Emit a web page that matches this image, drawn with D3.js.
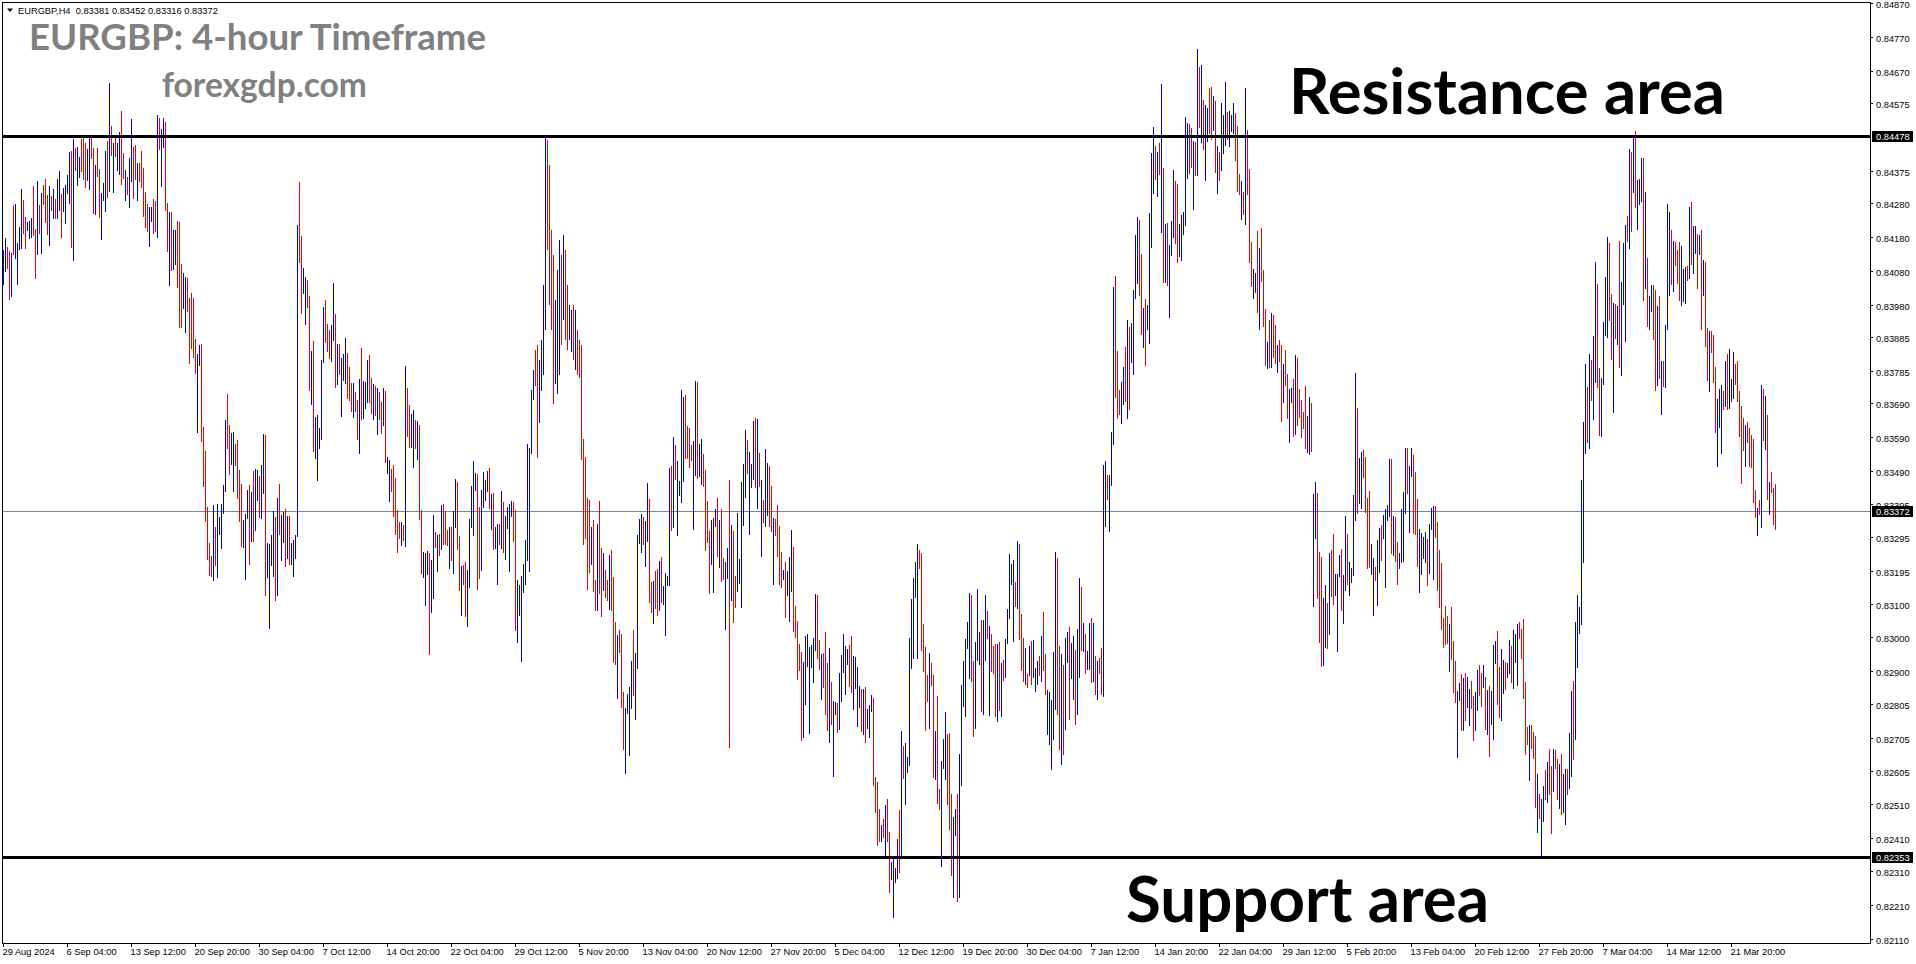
<!DOCTYPE html>
<html>
<head>
<meta charset="utf-8">
<title>EURGBP H4</title>
<script src="https://cdn.jsdelivr.net/npm/d3@7"></script>
<style>
html,body{margin:0;padding:0;background:#fff;overflow:hidden}
svg{display:block}
</style>
</head>
<body>
<svg id="chart" width="1916" height="964"></svg>
<script>
// EURGBP 4-hour bars. Prices are in points (1 point = 0.00001).
const highs = [
84143,84179,84151,84141,84135,84276,84279,84164,84210,84323,84290,84240,84225,84228,84238,84331,84205,84346,84276,84311,
84335,84352,84305,84331,84302,84323,84294,84352,84376,84308,84326,84335,84364,84431,84435,84470,84444,84446,84417,84470,
84476,84459,84441,84476,84476,84444,84394,84444,84382,84311,84341,84435,84464,84636,84508,84459,84476,84459,84490,84552,
84429,84379,84359,84415,84529,84446,84452,84400,84400,84435,84385,84314,84279,84270,84270,84294,84287,84541,84532,84500,
84532,84520,84282,84255,84255,84202,84202,84228,84225,84102,84076,84063,84061,84002,84017,84002,83881,83837,83863,83866,
83621,83550,83385,83280,83241,83392,83326,83395,83356,83395,83450,83642,83719,83627,83604,83606,83571,83583,83495,83454,
83347,83365,83436,83450,83429,83492,
83497,83494,83476,83509,83600,83597,83279,83276,83303,83373,83356,83412,83453,83362,83370,83379,83359,83359,83279,83288,
83303,84216,84343,84183,84089,84063,84054,84007,83845,83874,83650,83656,83618,83818,83974,83995,83924,83906,83921,84045,
83954,83865,83865,83824,83836,83883,83839,83798,83750,83750,83724,83700,83762,83853,83756,83753,83818,83833,83765,83747,
83742,83736,83724,83694,83736,83727,83532,83524,83497,83509,83471,83376,83341,83341,83332,83800,83736,83686,83659,83671,
83641,83638,83627,83376,83253,83250,83255,83250,83229,83362,83311,83303,83306,83391,83394,83373,83317,83326,83326,83373,
83468,83459,83300,83211,83214,83223,83199,83350,83447,83521,83485,83482,83385,83435,83488,83465,83491,83500,83423,83426,
83326,83335,83335,83432,83400,83359,83385,83394,
83402,83399,83376,83169,83154,83181,83216,83287,83570,83558,83729,83788,83847,83862,83818,83877,84039,84472,84466,84393,
84201,84127,83995,84083,84172,84127,84186,84142,84039,83980,83965,83980,83965,83906,83877,83862,83585,83532,83411,83405,
83325,83346,83169,83334,83402,83264,83249,83199,83169,83243,83258,83178,83045,83007,83022,83010,82839,82792,82833,82854,
82930,83022,82954,83302,83349,83364,83355,83343,83455,83408,83163,83166,83196,83202,83225,83237,83152,83190,83181,83500,
83505,83591,83567,83520,83461,83730,83709,83715,83623,83617,83567,83579,83756,83753,83570,83585,83541,83494,83402,83314,
83346,83352,83379,83411,83346,83379,83234,83222,83264,83464,83331,83314,83181,83367,83231,83458,83511,83612,83582,83547,
83511,83638,83647,83644,83544,83464,83405,
83556,83514,83506,83447,83352,83349,83391,83329,83252,83199,83222,83196,83237,83317,83267,83093,83048,82981,82957,82928,
83004,83010,82972,82978,82998,83128,83125,82992,82951,82954,83016,82925,82969,82869,82813,82810,82807,82895,82948,83010,
82975,82966,82978,83004,82945,82942,82913,82857,82848,82848,82854,82789,82801,82830,82821,82588,82574,82494,82447,82465,
82506,82524,82426,82338,82350,82320,82406,82491,82724,82680,82689,82647,82998,83113,83175,83222,83276,83258,83249,83040,
82972,82889,82954,82925,82889,82724,82827,82553,82636,82701,82780,82715,82718,82538,82471,82494,82538,82656,82860,82931,
82995,83046,83131,83125,82931,82987,83143,83016,83051,83051,83125,83078,83034,83010,82975,82981,82981,82987,82925,82933,
82995,83084,83246,83217,83228,83163,83284,83276,
83070,82999,82970,82893,82976,82991,82993,82911,82930,82946,83005,83076,82952,82845,82839,82816,82958,83252,83235,82976,
82950,82920,82997,83017,83031,82985,83003,82964,83026,83176,83149,83044,83009,82961,83044,83056,83044,82944,82932,82940,
82970,83509,83521,83480,83480,83607,84034,84066,83845,83730,83752,83798,83857,83936,83917,83928,84025,84188,84241,84231,
84131,83972,83999,83981,84251,84428,84505,84450,84432,84458,84632,84385,84220,84222,84158,84229,84379,84346,84337,84220,
84247,84255,84535,84517,84514,84503,84464,84462,84735,84682,84688,84585,84570,84562,84621,84623,84597,84582,84450,84432,
84576,84541,84638,84550,84552,84541,84576,84546,84509,84367,84346,84314,84621,84497,84381,84166,84087,84075,84198,84149,
84208,84084,83969,83871,83936,83957,83952,
83921,83862,83877,83862,83806,83847,83777,83732,83735,83762,83833,83824,83732,83700,83665,83741,83653,83709,83691,83423,
83458,83426,83252,83237,83116,83154,83101,83249,83258,83305,83187,83187,83243,83261,83184,83358,83305,83222,83205,83420,
83780,83676,83529,83547,83553,83532,83411,83432,83275,83234,83208,83287,83323,83331,83361,83379,83390,83526,83526,83358,
83355,83281,83249,83379,83429,83558,83558,83505,83558,83538,83488,83408,83320,83308,83296,83311,83290,83334,83382,83387,
83387,83340,83258,83219,83057,83093,83063,83039,83090,82989,82930,82842,82865,82892,82880,82895,82883,82848,82871,82827,
82839,82904,82919,82895,82919,82883,82845,82857,82842,82977,82989,83019,82913,82966,82933,82927,82924,82992,82975,83022,
83010,83039,83045,83025,83054,82868,82736,82742,
82743,82722,82710,82598,82539,82525,82562,82609,82633,82672,82622,82672,82669,82643,82628,82657,82596,82612,82612,82717,
82843,82872,83046,83126,83091,83465,83636,83807,83739,83836,83818,83889,84108,84042,83795,83765,83931,84063,84181,84163,
84013,83987,83984,83977,84169,84048,84163,84216,84243,84441,84432,84476,84493,84348,84352,84414,84414,84313,84119,84007,
84039,84039,84024,83977,84007,83815,83815,83921,84279,84255,84202,84169,84166,84142,84166,84155,84087,84092,84095,84269,
84284,84213,84213,84190,84187,84202,84113,84108,83913,83905,83905,83892,83797,83703,83733,83745,83726,83815,83836,83850,
83763,83842,83807,83815,83726,83683,83647,83626,83636,83618,83597,83586,83436,83381,83405,83745,83733,83711,83657,83459,
83489,83441,83452
];
const lows = [
84040,84078,84086,83996,84004,84128,84117,84040,84143,84146,84190,84146,84198,84176,84179,84185,84058,84128,84190,84130,
84274,84223,84187,84155,84258,84235,84235,84235,84258,84179,84255,84220,84308,84279,84149,84110,84376,84331,84356,84372,
84349,84326,84346,84320,84410,84249,84246,84359,84238,84172,84287,84255,84297,84314,84420,84311,84417,84376,84364,84335,
84352,84287,84305,84267,84343,84294,84349,84287,84344,84326,84241,84208,84196,84151,84225,84190,84196,84179,84438,84328,
84444,84258,84137,84037,84081,84084,84097,84031,83914,83914,83969,83899,83960,83806,83851,83825,83778,83604,83801,83575,
83444,83341,83229,83182,83179,83167,83212,83174,83303,83262,83365,83429,83557,83480,83509,83429,83506,83409,83341,83267,
83265,83170,83350,83215,83282,83282,
83314,83403,83353,83350,83423,83123,83176,83026,83211,83179,83108,83123,83303,83226,83279,83208,83232,83214,83214,83179,
83232,83297,84104,83954,84013,83921,83971,83727,83686,83547,83526,83462,83556,83582,83809,83868,83842,83821,83812,83874,
83736,83744,83774,83650,83756,83747,83703,83697,83665,83647,83665,83582,83541,83641,83644,83674,83692,83692,83659,83641,
83653,83597,83641,83600,83624,83515,83482,83400,83429,83356,83303,83250,83291,83270,83285,83267,83591,83559,83559,83500,
83556,83524,83347,83188,83176,83093,83185,82949,83073,83114,83264,83194,83241,83258,83273,83273,83270,83202,83226,83188,
83323,83258,83138,83064,83155,83061,83032,83146,83323,83300,83432,83141,83173,83197,83382,83403,83429,83379,83317,83258,
83261,83155,83273,83261,83250,83229,83320,83194,
83355,83281,83019,82983,83063,82927,83131,83154,83225,83193,83541,83700,83741,83529,83632,83727,83774,83906,84142,83980,
83906,83688,83747,83718,83774,83862,83936,83877,83847,83877,83841,83818,83788,83774,83765,83523,83272,83290,83140,83190,
83213,83134,83078,83078,83128,83060,83137,83116,83107,83081,83078,82924,82919,82818,82954,82792,82668,82597,82774,82650,
82789,82827,82756,82907,83275,83249,83272,83208,83281,83101,83072,83039,83084,83063,83078,83101,83095,83004,83152,83152,
83314,83323,83464,83299,83417,83396,83458,83526,83526,83500,83520,83317,83476,83467,83473,83449,83443,83255,83278,83128,
83213,83131,83325,83237,83205,83163,83169,83022,83172,82674,83107,83042,83087,83134,83157,83087,83328,83411,83482,83302,
83441,83464,83441,83379,83443,83237,83337,
83326,83358,83326,83311,83155,83299,83237,83155,83146,83169,83057,83122,83046,83134,83016,82998,82875,82901,82695,82703,
82801,82913,82715,82910,82866,82960,82936,82904,82815,82851,82771,82724,82689,82742,82588,82771,82718,82727,82810,82895,
82830,82919,82854,82836,82786,82848,82736,82792,82721,82712,82689,82730,82703,82780,82562,82482,82385,82397,82397,82409,
82355,82397,82246,82285,82173,82276,82288,82305,82355,82583,82506,82600,82621,82907,82936,83116,82936,83202,82960,82898,
82724,82810,82730,82857,82585,82580,82509,82491,82323,82612,82580,82506,82432,82296,82232,82414,82220,82232,82562,82795,
82765,82966,82877,82869,82706,82730,82931,82919,82780,82771,82931,82995,82768,82898,82892,82765,82751,82783,82765,82872,
82880,82981,83054,83155,82987,83090,83084,82992,
82900,82870,82860,82850,82885,82860,82880,82840,82860,82885,82870,82900,82830,82713,82683,82610,82698,82786,82771,82669,
82624,82654,82728,82926,82757,82879,82816,82742,82771,82881,82961,82957,82893,82905,82905,82867,82870,82831,82816,82893,
82831,82825,83326,83406,83312,83448,83568,83706,83645,83657,83629,83686,83693,83645,83672,83809,83775,83999,84042,84007,
83893,83854,83801,83907,83865,84149,84308,84348,84299,84364,84192,84046,84046,84037,83942,84125,84178,84160,84105,84123,
84111,84188,84214,84352,84367,84385,84261,84361,84361,84503,84458,84438,84346,84462,84485,84467,84493,84369,84308,84346,
84375,84426,84450,84467,84446,84491,84485,84405,84314,84306,84231,84247,84216,84306,84105,84034,83999,84016,83957,83907,
84048,83916,83801,83792,83795,83795,83824,
83806,83780,83812,83635,83691,83741,83644,83573,83691,83591,83597,83623,83647,83588,83615,83556,83544,83538,83547,83090,
83290,83113,82983,82913,82916,82969,82966,83007,83119,83095,83122,82957,83178,83078,83039,83137,83154,83122,83160,83181,
83343,83364,83393,83379,83470,83367,83202,83205,83184,83063,83166,83093,83190,83225,83290,83146,83343,83355,83246,83240,
83222,83154,83202,83219,83222,83364,83423,83308,83473,83305,83302,83208,83131,83184,83231,83219,83152,83187,83317,83169,
83293,83137,83087,83022,82969,82977,82980,82898,82933,82836,82806,82644,82812,82724,82724,82753,82792,82739,82789,82694,
82724,82783,82827,82795,82851,82727,82712,82647,82742,82697,82921,82801,82762,82753,82833,82845,82880,82892,82865,82848,
82924,82857,82995,82936,82818,82653,82683,82576,
82672,82643,82498,82422,82465,82355,82455,82522,82512,82536,82419,82545,82612,82520,82495,82475,82483,82448,82536,82554,
82589,82639,82699,82910,83010,83038,83220,83541,83573,83555,83697,83642,83749,83736,83594,83592,83745,83889,83884,83934,
83818,83662,83881,83863,83795,83771,83981,83871,84166,84147,84195,84312,84266,84202,84275,84283,83992,84027,83917,83907,
83960,83877,83726,83742,83763,83657,83740,83736,83907,84007,84039,84019,84095,84042,83992,83977,83988,83984,84051,84058,
84098,84071,84131,84027,84128,83907,84007,83857,83757,83724,83839,83750,83603,83503,83617,83541,83671,83681,83671,83674,
83694,83703,83745,83693,83592,83452,83550,83503,83573,83503,83500,83397,83352,83299,83362,83323,83579,83553,83405,83362,
83426,83331,83316
];
// One letter per bar: u = close above open, d = close below open, n = unchanged.
const directions = [
"uudduduuuu","dduuuddudu","dddududuud","uuuududuud","dduudduddu","uudududuud","duduuddudd","ddduuddudu","udduduuddd","uuddddduud","ddddduduuu","uudduudddd","uuudud",
"uuduuduuuu","duduududuu","uudduuddud","uuuuuddduu","duduuudddu","dduduuuddu","duddudnudd","dddududduu","dudduuuduu","dududddudu","uddudduuuu","udduuuudud","uududuuu",
"udduuuuuuu","uudduuuudd","dduuududdu","ududdddddd","uddudduddu","ddduddduuu","uduuuuduud","dudduduuuu","duduuuuddd","duuduudddd","uuududduud","udduuuuudu","uududud",
"uudduddddu","duuudddddu","uuuuuuddud","dduduuduuu","uudduuuudu","duuuddddud","udduuuudud","uuuuuuuddd","dduddudduu","uddduuduuu","uuudduuudu","ududddudud","uuuuudud",
"ddududuuud","udduuuuudd","uduuduuduu","duduududud","duuduuuddd","uududuuuud","duduuuudud","ududuuuddu","uuuuddudud","uduuddudud","uuuduuuddd","ududdduudu","dddudud",
"duddudduud","uddddduudu","uddduududd","uuuduudnuu","uduudddduu","duuduuuudu","dduuuuduud","dduuuuduuu","dddddddudd","duududuudd","uuddududuu","udduuduudu","uudddddu",
"ddduduudud","dudduduudu","uduuuuuudu","duudduuuud","dududuuudu","duduuududu","uddududuuu","duddduuudu","duudududdu","ddduuududn","uudddddudd","dddudududu","ddd"
].join("");

// Labelled levels on the price scale.
const priceTicks = [84870,84770,84670,84575,84375,84280,84180,84080,83980,83885,83785,83690,83590,83490,83395,83295,83195,83100,83000,82900,82805,82705,82605,82510,82410,82310,82210,82110];
const resistance = 84478, support = 82353, lastClose = 83372;
const dateLabels = ["29 Aug 2024","6 Sep 04:00","13 Sep 12:00","20 Sep 20:00","30 Sep 04:00","7 Oct 12:00","14 Oct 20:00","22 Oct 04:00","29 Oct 12:00","5 Nov 20:00","13 Nov 04:00","20 Nov 12:00","27 Nov 20:00","5 Dec 04:00","12 Dec 12:00","19 Dec 20:00","30 Dec 04:00","7 Jan 12:00","14 Jan 20:00","22 Jan 04:00","29 Jan 12:00","5 Feb 20:00","13 Feb 04:00","20 Feb 12:00","27 Feb 20:00","7 Mar 04:00","14 Mar 12:00","21 Mar 20:00"];
const barsPerDateTick = 32;

const plot = {left: 2, top: 2, right: 1870, bottom: 943};
const colors = {u: "#0000d2", d: "#f00000", n: "#000000"};
const axisFont = "'Liberation Sans', Arial, sans-serif";
const axisSize = 9.3;
const titleFont = "Lato, 'Open Sans', sans-serif";

const svg = d3.select("#chart");

const x = d3.scaleLinear().domain([0, highs.length - 1]).range([3.5, 3.5 + 2 * (highs.length - 1)]);
const y = d3.scaleLinear().domain([82099, 84874]).range([plot.bottom, plot.top]);
const yRound = y.copy().interpolate(d3.interpolateRound);

// Last-price line sits behind the bars.
svg.append("line").attr("x1", plot.left).attr("x2", plot.right)
  .attr("y1", yRound(lastClose) + 0.5).attr("y2", yRound(lastClose) + 0.5)
  .attr("stroke", "#778899").attr("stroke-width", 1);

// Bars are one pixel wide, high to low, coloured by direction.
svg.append("g").attr("shape-rendering", "crispEdges")
  .selectAll("line").data(d3.range(highs.length)).join("line")
  .attr("x1", i => x(i)).attr("x2", i => x(i))
  .attr("y1", i => y(highs[i])).attr("y2", i => y(lows[i]))
  .attr("stroke", i => colors[directions[i]] || colors.n)
  .attr("stroke-width", 1);

// Horizontal levels.
[resistance, support].forEach(level => {
  svg.append("line").attr("x1", plot.left).attr("x2", plot.right)
    .attr("y1", yRound(level) + 0.5).attr("y2", yRound(level) + 0.5)
    .attr("stroke", "#000").attr("stroke-width", 3);
});

// Frame.
svg.append("rect")
  .attr("x", plot.left + 0.5).attr("y", plot.top + 0.5)
  .attr("width", plot.right - plot.left).attr("height", plot.bottom - plot.top)
  .attr("fill", "none").attr("stroke", "#000").attr("stroke-width", 1);

// Price scale.
const priceAxis = svg.append("g").attr("transform", `translate(${plot.right},0)`)
  .call(d3.axisRight(yRound).tickValues(priceTicks).tickSize(3).tickPadding(3)
    .tickFormat(p => (p / 1e5).toFixed(5)));
priceAxis.select(".domain").remove();
priceAxis.selectAll("text").attr("font-family", axisFont).attr("font-size", axisSize)
  .attr("fill", "#000").attr("dy", "0.5em");

// Time scale.
const dateTicks = dateLabels.map((_, n) => n * barsPerDateTick);
const xAxisScale = x.copy().range([3, 3 + 2 * (highs.length - 1)]);
const timeAxis = svg.append("g").attr("transform", `translate(0,${plot.bottom})`)
  .call(d3.axisBottom(xAxisScale).tickValues(dateTicks).tickSize(4).tickPadding(1)
    .tickFormat((_, n) => dateLabels[n]));
timeAxis.select(".domain").remove();
timeAxis.selectAll("text").attr("font-family", axisFont).attr("font-size", axisSize).attr("fill", "#000")
  .attr("text-anchor", "start").attr("dx", -1);

// Price tags for the horizontal levels.
[resistance, lastClose, support].forEach(level => {
  const yy = yRound(level);
  svg.append("rect").attr("x", plot.right + 2).attr("y", yy - 5).attr("width", 41).attr("height", 11).attr("fill", "#000");
  svg.append("text").attr("x", plot.right + 6).attr("y", yy + 4)
    .attr("font-family", axisFont).attr("font-size", axisSize).attr("fill", "#fff")
    .text((level / 1e5).toFixed(5));
});

// Symbol header.
svg.append("path").attr("d", "M7 8.5 L13 8.5 L10 12 Z").attr("fill", "#000");
svg.append("text").attr("x", 18).attr("y", 14)
  .attr("font-family", axisFont).attr("font-size", axisSize).attr("fill", "#000")
  .attr("xml:space", "preserve").style("white-space", "pre")
  .text("EURGBP,H4  0.83381 0.83452 0.83316 0.83372");

// Captions.
const captions = [
  {text: "EURGBP: 4-hour Timeframe", x: 29, y: 50, size: 36.6, fill: "#808080"},
  {text: "forexgdp.com", x: 162, y: 97, size: 33.6, fill: "#808080"},
  {text: "Resistance area", x: 1289, y: 114, size: 63.4, fill: "#000"},
  {text: "Support area", x: 1126, y: 922, size: 63.6, fill: "#000"}
];
svg.append("g").selectAll("text").data(captions).join("text")
  .attr("x", d => d.x).attr("y", d => d.y)
  .attr("font-family", titleFont).attr("font-weight", 700)
  .attr("font-size", d => d.size).attr("fill", d => d.fill)
  .text(d => d.text);
</script>
</body>
</html>
